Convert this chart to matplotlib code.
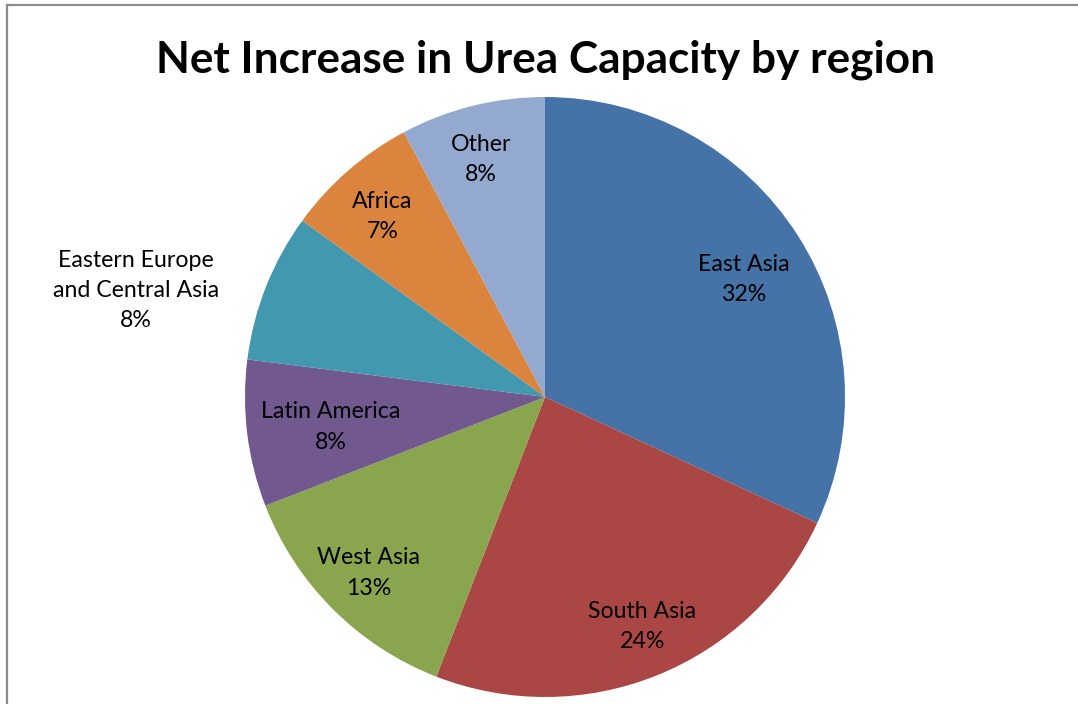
import numpy as np
import matplotlib
matplotlib.use("Agg")
import matplotlib.pyplot as plt
from matplotlib.lines import Line2D

# ---- data ----
regions = ["East Asia", "South Asia", "West Asia", "Latin America",
           "Eastern Europe\nand Central Asia", "Africa", "Other"]
shares = [31.9, 24.0, 13.2, 7.9, 8.0, 7.2, 7.8]
pct_labels = ["32%", "24%", "13%", "8%", "8%", "7%", "8%"]
colors = ["#4572A7", "#AA4643", "#89A54E", "#71588F", "#4198AF", "#DB843D", "#93A9CF"]

# label placement (radius as fraction of pie radius, angle offset in degrees)
label_r = [0.77, 0.83, 0.83, 0.72, 1.41, 0.81, 0.82]
label_dang = [2, -1, 0, -1, -7, -1, -1]

FONT = "Lato"
W, H = 1078, 704
fig = plt.figure(figsize=(W / 100, H / 100), dpi=100)
fig.patch.set_facecolor("white")

cx, cy, R = 545, 397, 300
ax = fig.add_axes([(cx - R) / W, (H - cy - R) / H, 2 * R / W, 2 * R / H])
wedges, _ = ax.pie(shares, colors=colors, startangle=90, counterclock=False,
                   radius=1.0, center=(0, 0),
                   wedgeprops=dict(linewidth=0))
ax.set_xlim(-1, 1)
ax.set_ylim(-1, 1)
ax.set_aspect("equal")
ax.axis("off")

total = sum(shares)
cum = 0.0
for name, s, p, r, da in zip(regions, shares, pct_labels, label_r, label_dang):
    mid = (cum + s / 2) / total * 360 + da  # clockwise from top
    cum += s
    th = np.deg2rad(90 - mid)
    x, y = r * np.cos(th), r * np.sin(th)
    ax.text(x, y, f"{name}\n{p}", ha="center", va="center",
            fontsize=16.7, family=FONT, color="black", linespacing=1.55)

fig.text(546 / W, (H - 72) / H, "Net Increase in Urea Capacity by region",
         ha="center", va="baseline", fontsize=31.8, fontweight="bold",
         family=FONT, color="black")

# chart frame (top and left edges visible)
fig.add_artist(Line2D([6.5 / W, 6.5 / W], [0, (H - 4.5) / H],
                      transform=fig.transFigure, color="#8c8c8c", lw=1.6))
fig.add_artist(Line2D([6.5 / W, 1], [(H - 4.5) / H, (H - 4.5) / H],
                      transform=fig.transFigure, color="#8c8c8c", lw=1.6))

fig.savefig("out.png", dpi=100, facecolor="white")
